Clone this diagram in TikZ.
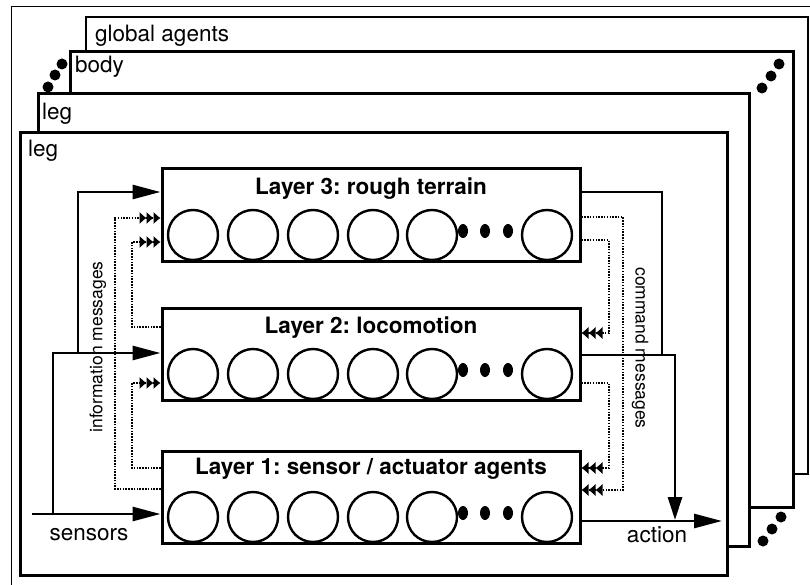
\documentclass[tikz,border=0pt]{standalone}
\usepackage{fontspec}
\setmainfont{TeX Gyre Heros}
\usetikzlibrary{arrows.meta,calc,positioning}
\frenchspacing

\begin{document}
\begin{tikzpicture}[x=1pt,y=-1pt,
  frame/.style={draw,line width=3pt,fill=white},
  layer/.style={draw,line width=3pt,minimum width=418pt,minimum height=92pt,inner sep=0pt},
  agent/.style={draw,circle,line width=2.4pt,minimum size=50pt,inner sep=0pt},
  lbl/.style={font=\fontsize{22.5}{26}\selectfont,inner sep=0pt},
  ttl/.style={font=\fontsize{22.5}{26}\selectfont\bfseries,inner sep=0pt},
  msg/.style={font=\fontsize{17.5}{20}\selectfont,inner sep=0pt},
  flow/.style={line width=2.8pt},
  info/.style={line width=2.2pt,dash pattern=on 1.5pt off 1.3pt},
  big/.style={-{Triangle[length=28pt,width=14pt]}},
  bigdown/.style={-{Triangle[length=23pt,width=14pt]}},
  fuzzy/.style={-{Latex[length=7pt,width=13pt]Latex[length=7pt,width=13pt]Latex[length=7pt,width=13pt]}}]
  \useasboundingbox (0,0) rectangle (810,585);
  % stacked frames
  \draw[line width=1pt] (11,585) -- (11,7) -- (810,7);
  \draw[frame,line width=2.2pt] (86,17) rectangle (808,474);
  \draw[frame] (70,52) rectangle (793,507);
  \draw[frame] (38,94) rectangle (749,546);
  \draw[frame] (20,133) rectangle (727,575);
  \foreach \px/\py in {48/87,55/75,62/64,762/88,771/76,779/64,763/541,772/529,781/517}
    \fill (\px,\py) circle[radius=5.5];
  \node[lbl,anchor=base west] (glb) at (95,42) {global agents};
  \node[lbl,anchor=base west] (bdy) at (75,73) {body};
  \node[lbl,anchor=base west] (lgb) at (42,120) {leg};
  \node[lbl,anchor=base west] (lgf) at (28,157) {leg};

  % layers
  \node[layer] (L3) at (371,215) {};
  \node[layer] (L2) at (371,354) {};
  \node[layer] (L1) at (371,497) {};
  \node[ttl,anchor=base] (t3) at ($(L3.north)+(0,27)$) {Layer 3: rough terrain};
  \node[ttl,anchor=base] (t2) at ($(L2.north)+(0,27)$) {Layer 2: locomotion};
  \node[ttl,anchor=base] (t1) at ($(L1.north)+(0,25)$) {Layer 1: sensor / actuator agents};
  \foreach \L/\cy in {L3/235,L2/374,L1/517}{
    \foreach \cx [count=\k] in {193,253,313,373,432,547}
      \node[agent] (\L a\k) at (\cx,\cy) {};
    \foreach \dx in {463,485,508}
      \fill (\dx,\cy-4) ellipse[x radius=5,y radius=7];}

  % sensors and action
  \coordinate (sens) at (32,514);
  \coordinate (br1) at (53,514);
  \coordinate (br2) at (78,353);
  \coordinate (jn) at (662,355);
  \coordinate (drop) at (675,520);
  \coordinate (act) at (722,521);
  \draw[flow,big] (sens) -- (L1.west |- sens);
  \draw[flow,big] (br1) |- (L2.west |- br2);
  \draw[flow,big] (br2) |- (L3.west |- 0,192);
  \draw[flow] (L3.east |- 0,192) -| (jn);
  \draw[flow,bigdown] (L2.east |- jn) -| (drop);
  \draw[flow,big] (L1.east |- act) -- (act);
  \node[lbl,anchor=base] (sensl) at (89,540) {sensors};
  \node[lbl,anchor=base] (actl) at (657,542) {action};

  % information messages
  \draw[info,fuzzy] (L1.west |- 0,489) -| (115,218) -- (L3.west |- 0,218);
  \draw[info,fuzzy] (L1.west |- 0,468) -| (132,383) -- (L2.west |- 0,383);
  \draw[info,fuzzy] (L2.west |- 0,327) -| (132,242) -- (L3.west |- 0,242);
  \node[msg,rotate=90] (infm) at (98,347) {information messages};

  % command messages
  \draw[info,fuzzy] (L3.east |- 0,217) -| (623,490) -- (L1.east |- 0,490);
  \draw[info,fuzzy] (L3.east |- 0,240) -| (609,333) -- (L2.east |- 0,333);
  \draw[info,fuzzy] (L2.east |- 0,383) -| (609,468) -- (L1.east |- 0,468);
  \node[msg,rotate=-90] (cmdm) at (640,348) {command messages};
\end{tikzpicture}
\end{document}
